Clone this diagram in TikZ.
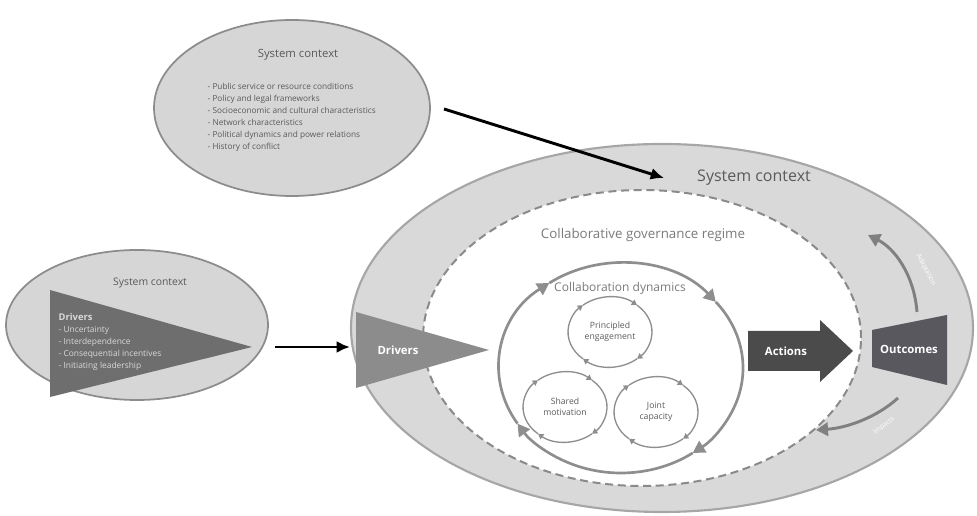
\documentclass[tikz,border=0pt]{standalone}
\usepackage{fontspec}
\setmainfont{Open Sans}
\usetikzlibrary{arrows.meta}

\definecolor{ctxfill}{HTML}{D6D6D6}
\definecolor{ctxline}{HTML}{8C8C8C}
\definecolor{bigfill}{HTML}{D9D9D9}
\definecolor{bigline}{HTML}{A6A6A6}
\definecolor{dashgray}{HTML}{8A8A8A}
\definecolor{loopgray}{HTML}{8E8E8E}
\definecolor{drvdark}{HTML}{6E6E6E}
\definecolor{drvmid}{HTML}{8C8C8C}
\definecolor{actfill}{HTML}{4B4B4B}
\definecolor{outfill}{HTML}{58585E}
\definecolor{txtgray}{HTML}{5A5A5A}

\newcommand{\fs}[2]{\fontsize{#1}{#2}\selectfont}

\begin{document}
\begin{tikzpicture}[x=0.75pt, y=0.75pt,
  ctx/.style={fill=ctxfill, draw=ctxline, line width=1.3pt},
  loopline/.style={draw=loopgray, line width=2pt, -{Triangle[length=9pt, width=10pt]}},
  smallloop/.style={draw=loopgray, line width=1pt, -{Triangle[length=4pt, width=4.5pt]}},
  fb/.style={draw=loopgray!90!black, line width=2.2pt, -{Triangle[length=9pt, width=10pt]}},
  boxtext/.style={text=white, font=\bfseries\fs{8.5}{10}},
  black arrow/.style={line width=2.2pt, -{Latex[length=10pt, width=9pt]}}]
  \useasboundingbox (0,0) rectangle (977,516);

  \draw[fill=bigfill, draw=bigline, line width=1.6pt] (662,188) ellipse [x radius=311, y radius=184];
  \node[text=txtgray, font=\fs{12}{14}] (bigctx) at (754,338) {System context};

  \draw[draw=dashgray, line width=1.5pt, fill=white, dash pattern=on 6pt off 3.5pt] (642,178) ellipse [x radius=219, y radius=148];
  \node[text=txtgray!80, font=\fs{10}{12}] (regime) at (643,281) {Collaborative governance regime};

  \fill[drvmid] (356,204) -- (356,128) -- (489,166) -- cycle;
  \node[boxtext] (drivers) at (398,166) {Drivers};

  \foreach \a/\b in {212/126, 126/39, 39/-54, -54/-148}
    \draw[loopline] (621,148) ++(\a:122 and 105) arc[start angle=\a, end angle=\b, x radius=122, y radius=105];
  \node[text=txtgray!80, font=\fs{9}{11}] (dynamics) at (620,228) {Collaboration dynamics};

  \foreach \cx/\cy/\nm/\txt in {610/184/princ/{Principled\\engagement}, 565/109/shared/{Shared\\motivation}, 656/104/joint/{Joint\\capacity}} {
    \foreach \a/\b in {230/130, 130/50, 50/-50, -50/-130}
      \draw[smallloop] (\cx,\cy) ++(\a:42 and 35) arc[start angle=\a, end angle=\b, x radius=42, y radius=35];
    \node[align=center, text=txtgray, font=\fs{6.5}{8}] (\nm) at (\cx,\cy) {\txt};
  }

  \fill[actfill] (748,185) -- (820,185) -- (820,196) -- (853,165) -- (820,134) -- (820,145) -- (748,145) -- cycle;
  \node[boxtext] (actions) at (786,165) {Actions};

  \fill[outfill] (872,186) -- (947,201) -- (947,131) -- (872,149) -- cycle;
  \node[boxtext] (outcomes) at (909,167) {Outcomes};

  \coordinate (upstart) at (917,204);
  \coordinate (upend) at (868,281);
  \draw[fb] (upstart) .. controls (914,242) and (894,268) .. (upend);
  \node[rotate=-62, text=white, font=\fs{5}{6}, inner sep=0pt] (adapt) at (926,246) {Adaptation};
  \coordinate (lowstart) at (898,118);
  \coordinate (lowend) at (816,86);
  \draw[fb] (lowstart) .. controls (876,98) and (846,88) .. (lowend);
  \node[rotate=38, text=white, font=\fs{5}{6}, inner sep=0pt] (impacts) at (884,90) {Impacts};

  \draw[ctx] (292,408) ellipse [x radius=138, y radius=88];
  \node[text=txtgray, font=\fs{8.5}{10}] (topctx) at (298,461) {System context};
  \node[anchor=north west, align=left, text=txtgray, font=\fs{6.2}{9}] (toplist) at (203,437) {- Public service or resource conditions\\- Policy and legal frameworks\\- Socioeconomic and cultural characteristics\\- Network characteristics\\- Political dynamics and power relations\\- History of conflict};

  \draw[ctx] (137,191) ellipse [x radius=131, y radius=75];
  \fill[drvdark] (50,226) -- (50,119) -- (252,169) -- cycle;
  \node[text=txtgray, font=\fs{7.8}{9}] (leftctx) at (150,233) {System context};
  \node[anchor=north west, align=left, text=white!85!black, font=\fs{6.3}{9}] (drvlist) at (54,207) {{\bfseries\fs{7}{9}Drivers}\\- Uncertainty\\- Interdependence\\- Consequential incentives\\- Initiating leadership};

  \coordinate (topout) at (444,407);
  \coordinate (bigtop) at (664,338);
  \draw[black arrow] (topout) -- (bigtop);
  \coordinate (leftout) at (275,169);
  \coordinate (bigleft) at (350,169);
  \draw[black arrow] (leftout) -- (bigleft);
\end{tikzpicture}
\end{document}
